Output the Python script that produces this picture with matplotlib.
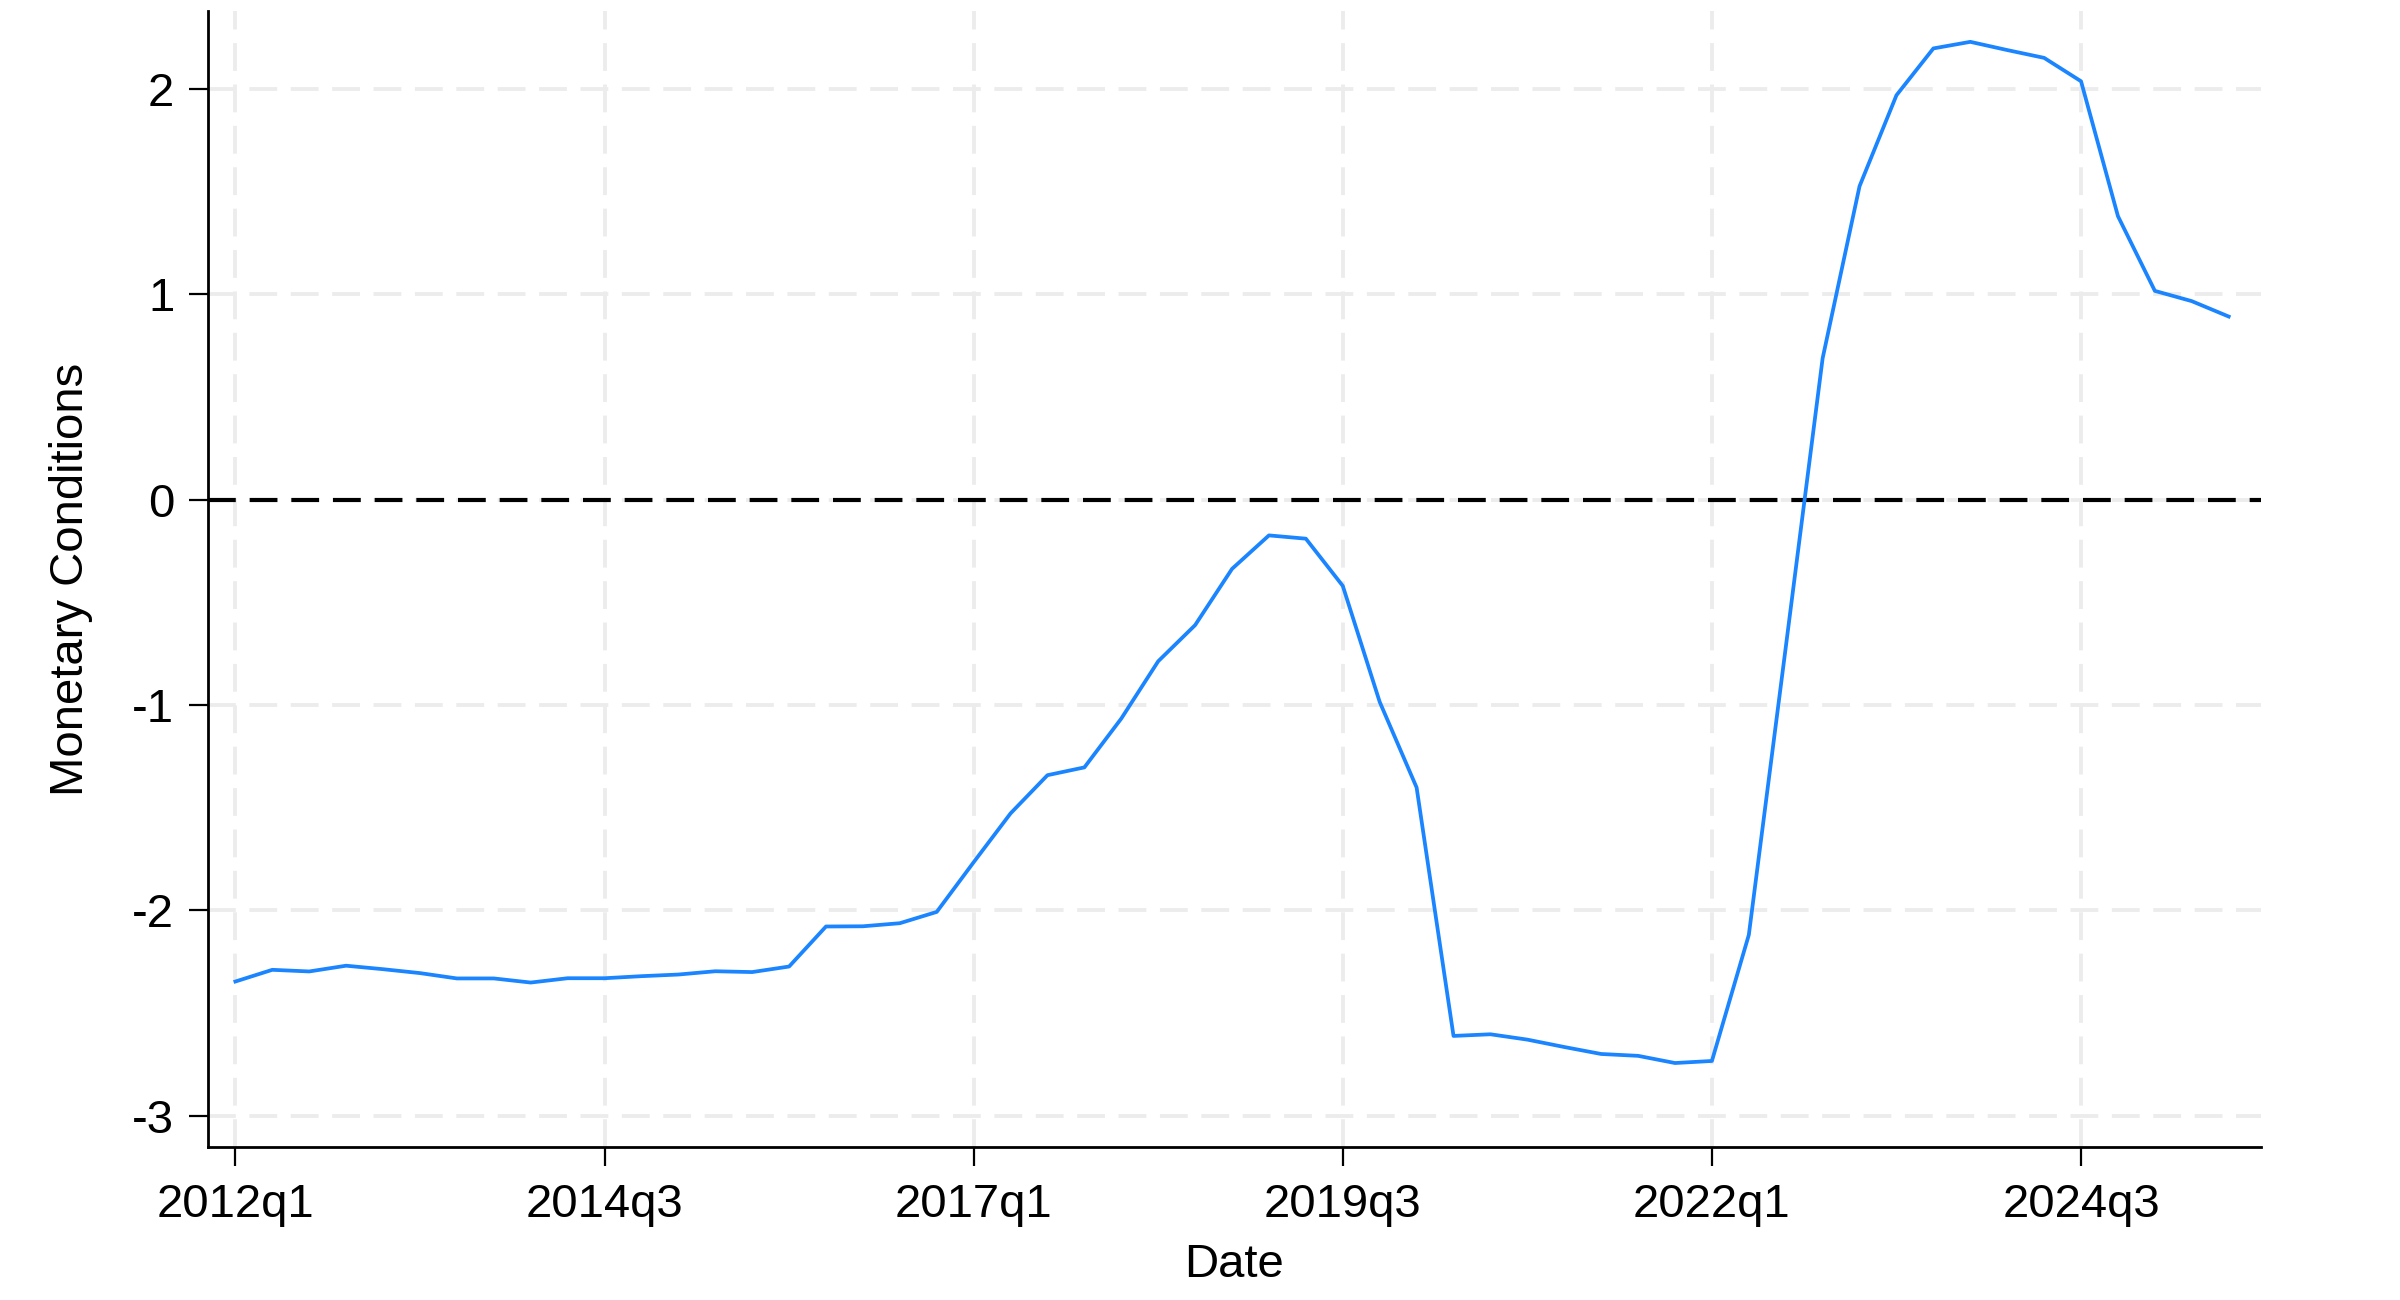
import matplotlib
matplotlib.use("Agg")
import matplotlib.pyplot as plt
import numpy as np

plt.rcParams['font.family'] = ['Liberation Sans', 'DejaVu Sans']
plt.rcParams['lines.scale_dashes'] = False

# Quarterly series, 2012q1 .. 2025q3
start_year = 2012
values = [
    -2.347, -2.290, -2.298, -2.270, -2.287, -2.306, -2.332, -2.332, -2.352, -2.331,
    -2.331, -2.321, -2.313, -2.297, -2.301, -2.274, -2.079, -2.078, -2.063, -2.008,
    -1.766, -1.528, -1.342, -1.304, -1.066, -0.787, -0.611, -0.337, -0.174, -0.190,
    -0.420, -0.985, -1.402, -2.612, -2.604, -2.630, -2.666, -2.700, -2.709, -2.744,
    -2.734, -2.120, -0.720, 0.689, 1.527, 1.970, 2.198, 2.230, 2.190, 2.152,
    2.038, 1.381, 1.017, 0.967, 0.892,
]
xtick_idx = [0, 10, 20, 30, 40, 50]
xtick_labels = ['2012q1', '2014q3', '2017q1', '2019q3', '2022q1', '2024q3']
yticks = [-3, -2, -1, 0, 1, 2]

x = np.arange(len(values))

fig = plt.figure(figsize=(12, 6.5), dpi=200)
ax = fig.add_axes([0.0865, 0.1177, 0.942 - 0.0865, 0.9915 - 0.1177])

grid_kw = dict(color='#ececec', linewidth=1.4, dashes=(10, 4.9))
for v in yticks:
    ax.axhline(v, zorder=0, **grid_kw)
for t in xtick_idx:
    ax.axvline(t, zorder=0, **grid_kw)

ax.axhline(0, color='black', linewidth=1.5, dashes=(10, 5), zorder=1)
ax.plot(x, values, color='#1a85ff', linewidth=1.35, zorder=2)

ax.set_xlim(-0.753, 54.87)
ax.set_ylim(-3.153, 2.38)
ax.set_xticks(xtick_idx)
ax.set_xticklabels(xtick_labels)
ax.set_yticks(yticks)
ax.set_yticklabels([str(v) for v in yticks])

for s in ['top', 'right']:
    ax.spines[s].set_visible(False)
for s in ['left', 'bottom']:
    ax.spines[s].set_linewidth(1.0)

ax.tick_params(axis='both', labelsize=17, length=6.8, width=0.8, direction='out')
ax.tick_params(axis='x', pad=6)
ax.tick_params(axis='y', pad=5.2)

ax.set_xlabel('Date', fontsize=17, labelpad=6)
ax.set_ylabel('Monetary Conditions', fontsize=17, labelpad=14)

fig.savefig('out.png', dpi=200)
